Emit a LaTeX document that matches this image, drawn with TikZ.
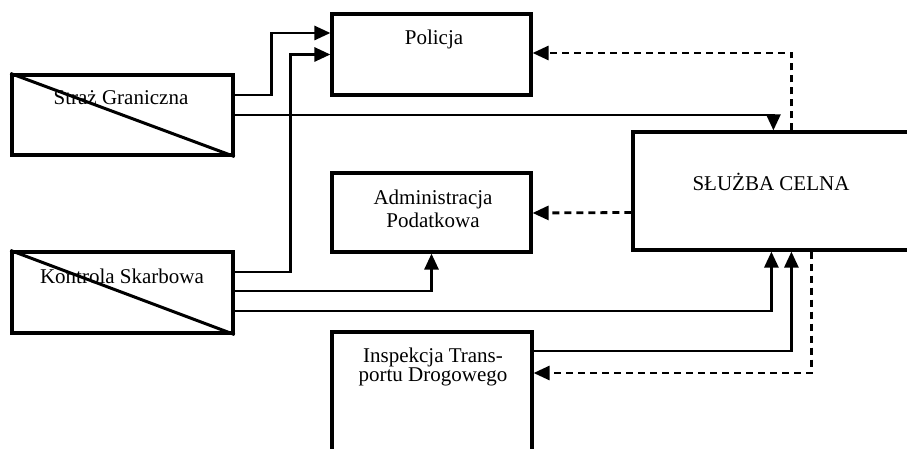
\documentclass[tikz,border=0pt]{standalone}
\usepackage{fontspec}
\setmainfont{Liberation Serif}
\usetikzlibrary{arrows.meta}
\begin{document}
\begin{tikzpicture}[x=1pt,y=-1pt,
  box/.style={draw, line width=3.2pt, rectangle, inner sep=0pt},
  lbl/.style={font=\fontsize{21}{22}\selectfont, align=center, inner sep=0pt, anchor=base},
  conn/.style={line width=2.8pt, -{Triangle[length=16pt,width=14pt]}},
  dconn/.style={conn, dash pattern=on 7pt off 5pt},
  diag/.style={line width=3pt},
]
\useasboundingbox (0,0) rectangle (907,449);
\clip (0,0) rectangle (907,449);
% boxes
\node[box, minimum width=199pt, minimum height=81pt] (pol) at (431.5,54.5) {};
\node[box, minimum width=221pt, minimum height=80pt] (sg) at (122.5,115) {};
\node[box, minimum width=199pt, minimum height=79pt] (adm) at (431.5,212.5) {};
\node[box, minimum width=327pt, minimum height=118pt] (sc) at (796.5,191) {};
\node[box, minimum width=221pt, minimum height=81pt] (ks) at (122.5,292.5) {};
\node[box, minimum width=200pt, minimum height=168pt] (ins) at (432,416) {};
% diagonals
\draw[diag] (sg.north west) -- (sg.south east);
\draw[diag] (ks.north west) -- (ks.south east);
% labels
\node[lbl] (tpol) at (434,45) {Policja};
\node[lbl] (tsg) at (121,105) {Straż Graniczna};
\node[lbl] (tks) at (122,283) {Kontrola Skarbowa};
\node[lbl, font=\fontsize{21}{23}\selectfont] (tadm) at (433,227) {Administracja\\Podatkowa};
\node[lbl] (tsc) at (771,190) {SŁUŻBA CELNA};
\node[lbl, font=\fontsize{21}{19}\selectfont] (tins) at (433,381) {Inspekcja Trans-\\portu Drogowego};
% solid connectors
\draw[conn] ([yshift=20pt]sg.east) -| ([xshift=-59pt,yshift=21.5pt]pol.west) -- ([yshift=21.5pt]pol.west);
\draw[conn] ([yshift=20.5pt]ks.east) -| ([xshift=-40pt]pol.west) -- (pol.west);
\draw[conn] (sg.east) -| ([xshift=142pt]sc.north west);
\draw[conn] ([yshift=1.5pt]ks.east) -| (adm.south);
\draw[conn] ([yshift=-18.5pt]ks.east) -| ([xshift=140pt]sc.south west);
\draw[conn] ([yshift=65pt]ins.east) -| ([xshift=160pt]sc.south west);
% dashed connectors
\draw[dconn] ([xshift=160pt]sc.north west) |- ([yshift=1.5pt]pol.east);
\draw[dconn] ([yshift=-21.5pt]sc.west) -- (adm.east |- 0,213);
\draw[dconn] ([xshift=180pt]sc.south west) |- ([yshift=43pt]ins.east);
\end{tikzpicture}
\end{document}
